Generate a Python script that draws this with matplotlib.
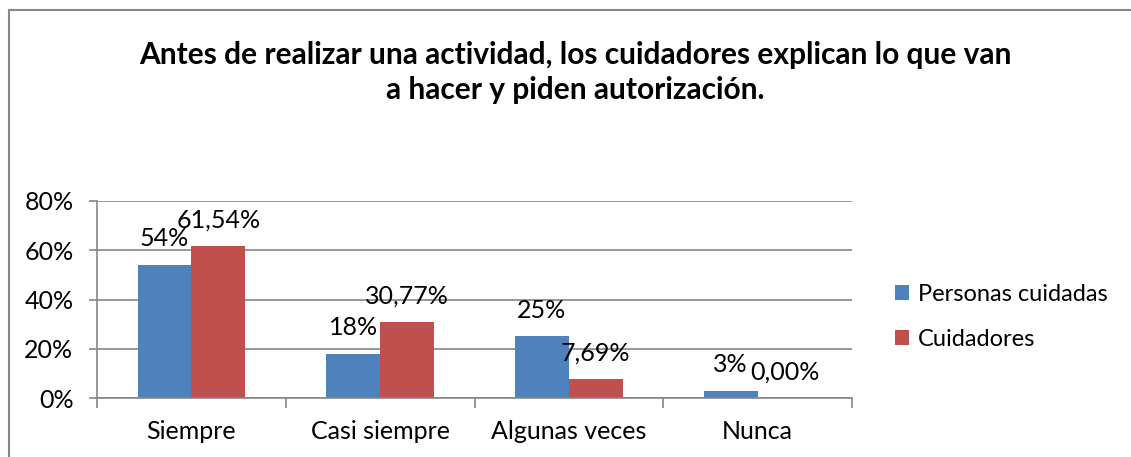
import matplotlib
matplotlib.use("Agg")
import matplotlib.pyplot as plt
import numpy as np
from matplotlib.patches import Rectangle

categorias = ["Siempre", "Casi siempre", "Algunas veces", "Nunca"]
personas = [54, 18, 25, 3]
cuidadores = [61.54, 30.77, 7.69, 0.00]
etiq_personas = ["54%", "18%", "25%", "3%"]
etiq_cuidadores = ["61,54%", "30,77%", "7,69%", "0,00%"]
yticks = [0, 20, 40, 60, 80]

azul = "#4F81BD"
rojo = "#C0504D"
gris = "#868686"

plt.rcParams['font.family'] = ['Lato', 'DejaVu Sans']

W, H = 1131, 457
fig = plt.figure(figsize=(W / 100, H / 100), dpi=100)

# marco exterior del grafico
fig.patches.append(Rectangle((9 / W, -0.05), 1.2, 1 - 10 / H + 0.05,
                             transform=fig.transFigure, fill=False,
                             edgecolor=gris, linewidth=1.5))

ax = fig.add_axes([97 / W, 1 - 398 / H, (852 - 97) / W, (398 - 201) / H])

x = np.arange(len(categorias))
w = 0.285
b1 = ax.bar(x - w / 2, personas, w, color=azul, label="Personas cuidadas")
b2 = ax.bar(x + w / 2, cuidadores, w, color=rojo, label="Cuidadores")

for bars, labs in ((b1, etiq_personas), (b2, etiq_cuidadores)):
    for r, t in zip(bars, labs):
        ax.annotate(t, (r.get_x() + r.get_width() / 2, r.get_height()),
                    xytext=(0, 19), textcoords="offset points",
                    ha="center", va="center", fontsize=18)

ax.set_xlim(-0.5, len(categorias) - 0.5)
ax.set_ylim(0, 80)
ax.set_yticks(yticks)
ax.set_yticklabels([f"{v}%" for v in yticks], fontsize=18)
ax.yaxis.grid(True, color=gris, linewidth=1.2)
ax.set_axisbelow(True)
ax.set_xticks(x)
ax.set_xticklabels(categorias, fontsize=18)
ax.tick_params(axis="x", length=0, pad=16)
ax.tick_params(axis="y", length=6, color=gris, width=1.2, pad=11)
# marcas entre categorias
ax.set_xticks(np.arange(len(categorias) + 1) - 0.5, minor=True)
ax.tick_params(axis="x", which="minor", length=7, color=gris, width=1.2)
for s in ["top", "right"]:
    ax.spines[s].set_visible(False)
ax.spines["left"].set_color(gris)
ax.spines["bottom"].set_color(gris)
ax.spines["left"].set_linewidth(1.2)
ax.spines["bottom"].set_linewidth(1.2)

fig.legend(handles=[b1, b2], loc="center left",
           bbox_to_anchor=(895 / W, 1 - 317 / H), frameon=False,
           borderpad=0, borderaxespad=0,
           fontsize=17, handlelength=0.6, handleheight=0.6,
           handletextpad=0.38, labelspacing=1.03)

fig.text(575 / W, 1 - 72.5 / H,
         "Antes de realizar una actividad, los cuidadores explican lo que van\na hacer y piden autorización.",
         ha="center", va="center", fontsize=21.5, fontweight="bold",
         linespacing=1.3)

fig.savefig("out.png", dpi=100)
